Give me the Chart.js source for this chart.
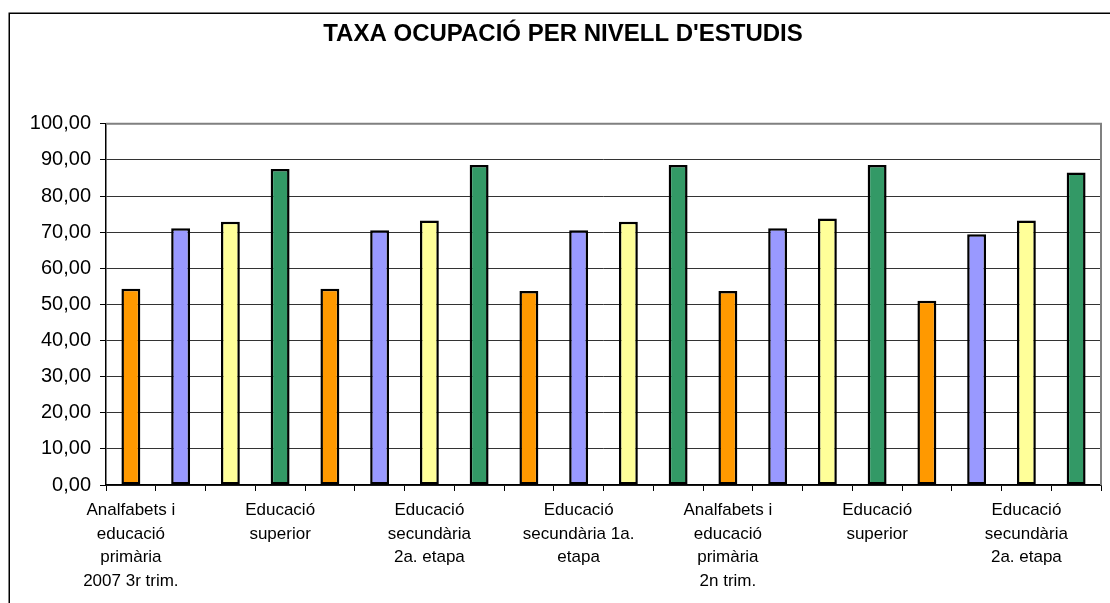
<!DOCTYPE html>
<html>
<head>
<meta charset="utf-8">
<script src="https://cdn.jsdelivr.net/npm/chart.js@4"></script>
<style>
  html, body { margin: 0; padding: 0; background: #fff; overflow: hidden; }
  canvas { display: block; }
</style>
</head>
<body>
<canvas id="c" width="1110" height="603"></canvas>
<script>
// ---- data ----
const chartTitle = "TAXA OCUPACIÓ PER NIVELL D'ESTUDIS";
const levelLines = [
  ["Analfabets i", "educació", "primària"],
  ["Educació", "secundària 1a.", "etapa"],
  ["Educació", "secundària", "2a. etapa"],
  ["Educació", "superior"]
];
const periods = ["2007 3r trim.", "4t trim.", "2008 1r trim.", "2n trim.", "3r trim."];
const t2007_3 = [54.3, 71.1, 72.9, 87.5];
const t2007_4 = [54.3, 70.5, 73.2, 88.6];
const t2008_1 = [53.7, 70.5, 72.9, 88.6];
const t2008_2 = [53.7, 71.1, 73.8, 88.6];
const t2008_3 = [51.0, 69.4, 73.2, 86.5];
const levelColors = ["#FF9900", "#9999FF", "#FFFF99", "#339966"];
const yTickMax = 100, yTickStep = 10;
const labelEvery = 3;

// ---- build ----
const periodValues = [t2007_3, t2007_4, t2008_1, t2008_2, t2008_3];
const labels = [], values = [], colors = [];
periodValues.forEach((vals, p) => {
  vals.forEach((v, l) => {
    labels.push(l === 0 ? levelLines[l].concat([periods[p]]) : levelLines[l]);
    values.push(v);
    colors.push(levelColors[l]);
  });
});

const framePlugin = {
  id: 'frame',
  beforeDraw(chart) {
    const ctx = chart.ctx;
    ctx.save();
    ctx.fillStyle = '#fff';
    ctx.fillRect(0, 0, chart.width, chart.height);
    ctx.strokeStyle = '#000';
    ctx.lineWidth = 1.5;
    ctx.strokeRect(9.25, 13.25, 2000, 2000);
    ctx.restore();
  },
  afterDatasetsDraw(chart) {
    const a = chart.chartArea, ctx = chart.ctx;
    ctx.save();
    ctx.strokeStyle = '#808080';
    ctx.lineWidth = 2;
    ctx.beginPath();
    ctx.moveTo(a.left, a.top);
    ctx.lineTo(a.right, a.top);
    ctx.lineTo(a.right, a.bottom);
    ctx.stroke();
    ctx.restore();
  }
};

new Chart(document.getElementById('c'), {
  type: 'bar',
  data: {
    labels: labels,
    datasets: [{
      data: values,
      backgroundColor: colors,
      borderColor: '#000',
      borderWidth: 2.5,
      borderSkipped: false,
      categoryPercentage: 1,
      barPercentage: 0.38
    }]
  },
  options: {
    responsive: false,
    devicePixelRatio: 1,
    animation: false,
    layout: { padding: { left: 25, right: 9, top: 13, bottom: 0 } },
    plugins: {
      legend: { display: false },
      tooltip: { enabled: false },
      title: {
        display: true,
        text: chartTitle,
        color: '#000',
        font: { family: 'Liberation Sans, Arial, sans-serif', size: 24, weight: 'bold', lineHeight: 1.2 },
        padding: { top: 7, bottom: 75 }
      }
    },
    scales: {
      x: {
        grid: {
          display: true, drawOnChartArea: false, drawTicks: true,
          tickLength: 6, color: '#000', offset: true
        },
        border: { display: true, color: '#000', width: 1.5 },
        ticks: {
          autoSkip: false, maxRotation: 0, minRotation: 0, padding: 8,
          color: '#000',
          font: { family: 'Liberation Sans, Arial, sans-serif', size: 17, lineHeight: 1.38 },
          callback: function(v, i) { return i % labelEvery === 0 ? this.getLabelForValue(v) : ''; }
        },
        afterFit(scale) { scale.height = 118; }
      },
      y: {
        min: 0, max: yTickMax,
        grid: { color: '#333', lineWidth: 1, tickLength: 6, tickColor: '#000' },
        border: { display: true, color: '#000', width: 1.5 },
        ticks: {
          stepSize: yTickStep, padding: 9, color: '#000',
          font: { family: 'Liberation Sans, Arial, sans-serif', size: 20 },
          callback: v => v.toFixed(2).replace('.', ',')
        },
        afterFit(scale) { scale.width = 81; }
      }
    }
  },
  plugins: [framePlugin]
});
</script>
</body>
</html>
